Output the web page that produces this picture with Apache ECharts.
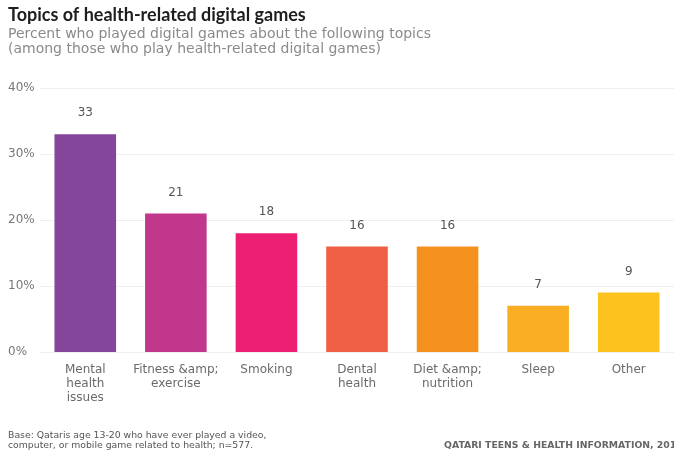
<!DOCTYPE html>
<html>
<head>
<meta charset="utf-8">
<script src="https://cdn.jsdelivr.net/npm/echarts@6/dist/echarts.min.js"></script>
<style>
  html, body { margin: 0; padding: 0; background: #fff; overflow: hidden; }
  #chart { width: 674px; height: 456px; }
</style>
</head>
<body>
<div id="chart"></div>
<script>
// Topics of health-related digital games (percent of players)
const categories = [
  'Mental\nhealth\nissues',
  'Fitness &amp;\nexercise',
  'Smoking',
  'Dental\nhealth',
  'Diet &amp;\nnutrition',
  'Sleep',
  'Other'
];
const values = [33, 21, 18, 16, 16, 7, 9];
const barColors = ['#84469a', '#c0378c', '#ec1f72', '#ef5f44', '#f5921f', '#f9ad22', '#fcc31e'];
const yTicks = [0, 10, 20, 30, 40];

const FONT = 'Lato, "Open Sans", sans-serif';
const WIDE = '"DejaVu Sans", Verdana, sans-serif';

const chart = echarts.init(document.getElementById('chart'), null, { renderer: 'canvas' });

chart.setOption({
  backgroundColor: '#ffffff',
  animation: false,
  title: [
    {
      text: 'Topics of health-related digital games',
      left: 8, top: 6, padding: 0,
      textStyle: { fontFamily: FONT, fontSize: 18, fontWeight: 'bold', color: '#1e1e1e' }
    },
    {
      text: 'Percent who played digital games about the following topics\n(among those who play health-related digital games)',
      left: 8, top: 27, padding: 0,
      textStyle: { fontFamily: WIDE, fontSize: 14, fontWeight: 'normal', color: '#8a8a8a', lineHeight: 15 }
    },
    {
      text: 'Base: Qataris age 13-20 who have ever played a video,\ncomputer, or mobile game related to health; n=577.',
      left: 8, top: 430, padding: 0,
      textStyle: { fontFamily: WIDE, fontSize: 9.3, fontWeight: 'normal', color: '#555', lineHeight: 10.5 }
    },
    {
      text: 'QATARI TEENS & HEALTH INFORMATION, 2017',
      left: 444, top: 441, padding: 0,
      textStyle: { fontFamily: WIDE, fontSize: 9.3, fontWeight: 'bold', color: '#666' }
    }
  ],
  grid: { left: 40, right: 0, top: 88, bottom: 104, containLabel: false },
  xAxis: {
    type: 'category',
    data: categories,
    axisLine: { show: false },
    axisTick: { show: false },
    axisLabel: {
      interval: 0,
      margin: 11,
      fontFamily: WIDE,
      fontSize: 12,
      color: '#6a6a6a',
      lineHeight: 14
    }
  },
  yAxis: {
    type: 'value',
    min: yTicks[0],
    max: yTicks[yTicks.length - 1],
    interval: 10,
    axisLine: { show: false },
    axisTick: { show: false },
    axisLabel: {
      formatter: v => v + '%',
      align: 'left',
      margin: 32,
      padding: [4, 0, 0, 0],
      fontFamily: WIDE,
      fontSize: 12,
      color: '#777'
    },
    splitLine: { show: true, lineStyle: { color: '#efefef', width: 1 } }
  },
  series: [{
    type: 'bar',
    data: values.map((v, i) => ({ value: v, itemStyle: { color: barColors[i] } })),
    barCategoryGap: '32%',
    label: {
      show: true,
      position: 'top',
      distance: 15,
      fontFamily: WIDE,
      fontSize: 12,
      color: '#555'
    }
  }]
});
</script>
</body>
</html>
